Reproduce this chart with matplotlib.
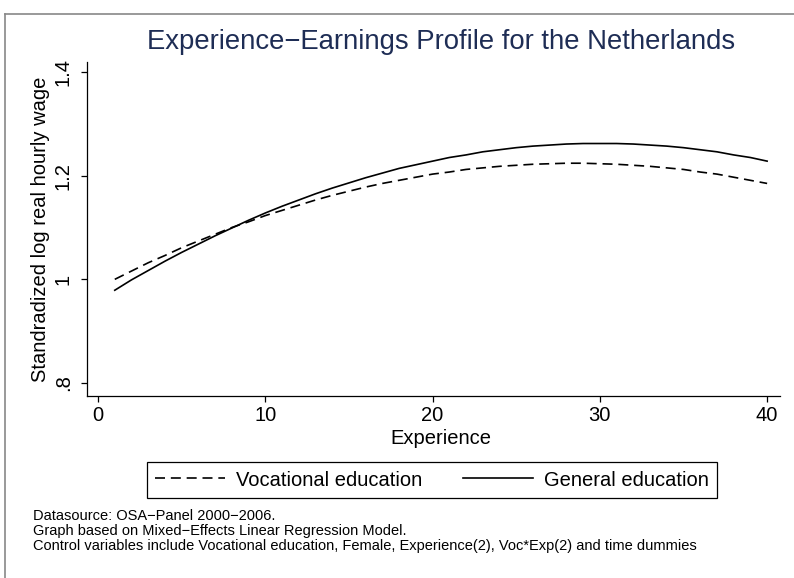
import matplotlib
matplotlib.use("Agg")
import matplotlib.pyplot as plt
from matplotlib.lines import Line2D

plt.rcParams['font.family'] = ['Liberation Sans', 'DejaVu Sans']

# experience in years
experience = list(range(1, 41))

# predicted standardized log wage
general = [0.979, 0.999, 1.017, 1.035, 1.052, 1.068, 1.084, 1.099, 1.114, 1.128,
           1.141, 1.153, 1.165, 1.176, 1.186, 1.196, 1.205, 1.214, 1.221, 1.228,
           1.235, 1.240, 1.246, 1.250, 1.254, 1.257, 1.259, 1.261, 1.262, 1.262,
           1.262, 1.261, 1.259, 1.257, 1.254, 1.250, 1.246, 1.240, 1.235, 1.228]
vocational = [1.000, 1.016, 1.032, 1.046, 1.061, 1.074, 1.087, 1.100, 1.111, 1.123,
              1.133, 1.143, 1.153, 1.162, 1.170, 1.178, 1.185, 1.191, 1.197, 1.203,
              1.207, 1.212, 1.215, 1.218, 1.220, 1.222, 1.223, 1.224, 1.224, 1.223,
              1.222, 1.220, 1.218, 1.215, 1.212, 1.207, 1.203, 1.197, 1.191, 1.185]

xticks = [0, 10, 20, 30, 40]
yticks = [0.8, 1.0, 1.2, 1.4]
ytick_labels = ['.8', '1', '1.2', '1.4']

title = "Experience\u2212Earnings Profile for the Netherlands"
notes = ["Datasource: OSA\u2212Panel 2000\u22122006.",
         "Graph based on Mixed\u2212Effects Linear Regression Model.",
         "Control variables include Vocational education, Female, Experience(2), Voc*Exp(2) and time dummies"]

W, H = 794, 578
FS = 14.5
fig = plt.figure(figsize=(W / 100, H / 100), dpi=100)

# outer frame (only left and top edges visible in the crop)
fig.add_artist(Line2D([5 / W, 5 / W], [0, 1 - 14 / H], color='#888888', lw=1.2))
fig.add_artist(Line2D([5 / W, 1], [1 - 14 / H, 1 - 14 / H], color='#888888', lw=1.2))

ax = fig.add_axes([87 / W, 1 - 396 / H, (780 - 87) / W, (396 - 61.6) / H])
ax.plot(experience, vocational, color='black', lw=1.2, dashes=(6, 3.5))
ax.plot(experience, general, color='black', lw=1.2)

ax.set_xlim(-0.66, 40.77)
ax.set_ylim(0.775, 1.42)
ax.set_xticks(xticks)
ax.set_yticks(yticks)
ax.set_yticklabels(ytick_labels, rotation=90, va='center')
for s in ['top', 'right']:
    ax.spines[s].set_visible(False)
for s in ['left', 'bottom']:
    ax.spines[s].set_linewidth(0.9)
ax.tick_params(direction='out', length=4.3, width=0.9, labelsize=FS)
ax.tick_params(axis='x', pad=3.0)
ax.tick_params(axis='y', pad=6.0)

fig.text(441 / W, 1 - 438 / H, "Experience", ha='center', va='center', fontsize=FS)
fig.text(41 / W, 1 - 229 / H, "Standradized log real hourly wage", ha='center',
         va='center', rotation=90, fontsize=FS)

fig.text(441 / W, 1 - 42 / H, title, ha='center', va='center',
         fontsize=19.8, color='#1e2d55')

handles = [Line2D([], [], color='black', lw=1.2, dashes=(6, 3.5)),
           Line2D([], [], color='black', lw=1.2)]
leg = fig.legend(handles, ["Vocational education", "General education"],
                 loc='center', bbox_to_anchor=(432 / W, 1 - 480 / H), ncol=2,
                 fontsize=FS, frameon=True, fancybox=False, handlelength=3.5,
                 columnspacing=2.0, handletextpad=0.55, borderpad=0.4,
                 edgecolor='black', framealpha=1)
leg.get_frame().set_linewidth(0.9)

for i, line in enumerate(notes):
    fig.text(33 / W, 1 - (516 + 15 * i) / H, line, ha='left', va='center', fontsize=10.5)

fig.savefig("out.png", dpi=100)
